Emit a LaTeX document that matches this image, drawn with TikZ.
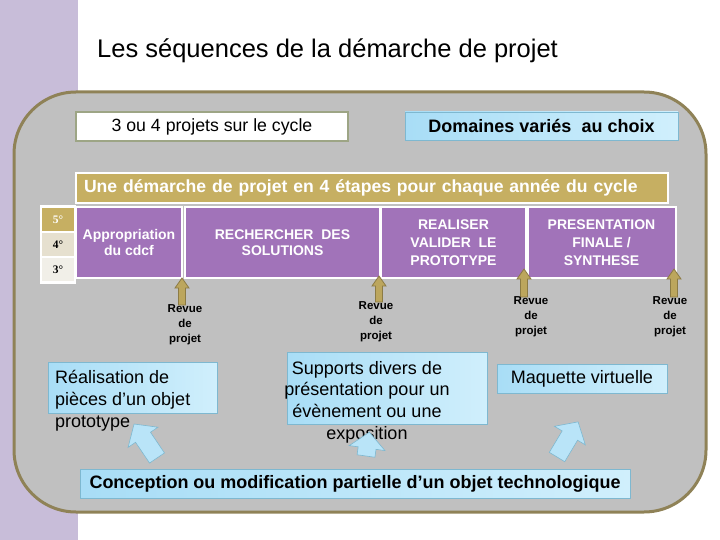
\documentclass[tikz,border=0pt]{standalone}
\usepackage{fontspec}
\setmainfont{Liberation Sans}
\newfontfamily\yearfont{Liberation Serif}
\usetikzlibrary{positioning}

\definecolor{lavender}{HTML}{C8BDD9}
\definecolor{panelgray}{HTML}{C0C0C0}
\definecolor{olive}{HTML}{8F8257}
\definecolor{sage}{HTML}{9DA585}
\definecolor{khaki}{HTML}{C6AF62}
\definecolor{khakidark}{HTML}{8C7B45}
\definecolor{mauve}{HTML}{A173B9}
\definecolor{beige}{HTML}{E6E0CF}
\definecolor{cream}{HTML}{F1EFE8}
\definecolor{skyleft}{HTML}{A8DDF6}
\definecolor{skyright}{HTML}{D0EFFC}
\definecolor{skyline}{HTML}{7EB8D0}

\tikzset{
  revuearrow/.pic={
    \draw[pic actions, fill=khaki!95!black, draw=khakidark, line width=0.8pt]
      (-3.5,0) -- (-3.5,{-#1+10}) -- (-7,{-#1+10}) -- (0,-#1)
      -- (7,{-#1+10}) -- (3.5,{-#1+10}) -- (3.5,0) -- cycle;
  },
  bluearrow/.pic={
    \draw[pic actions, fill=skyleft!80!white, draw=skyline, line width=0.6pt]
      (-9,0) -- (-9,{-#1+16}) -- (-18,{-#1+16}) -- (0,-#1)
      -- (18,{-#1+16}) -- (9,{-#1+16}) -- (9,0) -- cycle;
  }
}

\begin{document}
\begin{tikzpicture}[x=1pt, y=-1pt,
    whitebox/.style={rectangle, draw=sage, line width=2.5pt, fill=white,
                     font=\fontsize{17.7}{21}\selectfont},
    bluebox/.style={rectangle, draw=skyline, line width=0.8pt,
                    left color=skyleft, right color=skyright},
    phase/.style={rectangle, draw=white, line width=2pt, fill=mauve, text=white,
                  minimum height=70, align=center,
                  font=\bfseries\fontsize{14}{15.5}\selectfont},
    yearbox/.style={rectangle, draw=white, line width=2pt, minimum width=34,
                    minimum height=25, font=\yearfont\bfseries\fontsize{11.5}{13}\selectfont},
    revue/.style={align=center, font=\bfseries\fontsize{11.5}{15}\selectfont},
    boxtext/.style={font=\fontsize{18}{21.7}\selectfont, inner sep=0pt}
  ]
    \useasboundingbox (0,0) rectangle (720,540);
    \fill[lavender] (0,0) rectangle (78,540);
    \node[anchor=base west, inner sep=0pt, font=\fontsize{25.5}{28}\selectfont]
      (title) at (97,58) {Les séquences de la démarche de projet};

    % panel
    \draw[fill=panelgray, draw=olive, line width=3pt, rounded corners=62]
      (14,92) rectangle (706,512);

    \node[whitebox, minimum width=272, minimum height=29] (cycle) at (212,126.5)
      {3 ou 4 projets sur le cycle};
    \node[bluebox, minimum width=273, minimum height=28,
          font=\bfseries\fontsize{18}{21}\selectfont] (domaines) at (541.5,126)
      {Domaines variés\ \ au choix};

    \node[rectangle, draw=white, line width=2pt, fill=khaki, text=white,
          minimum height=30, text width=576, inner xsep=8, align=left,
          font=\bfseries\fontsize{17.6}{21}\selectfont] (banner) at (372,188)
      {Une démarche de projet en 4 étapes pour chaque année du cycle};

    % years
    \fill[white] (40,205) rectangle (76,284);
    \node[yearbox, fill=khaki, text=white] (y5) at (58,219.5) {5°};
    \node[yearbox, fill=beige] (y4) at (58,244.5) {4°};
    \node[yearbox, fill=cream] (y3) at (58,269.5) {3°};

    % phases
    \node[phase, minimum width=106] (p1) at (129,242.5) {Appropriation\\du cdcf};
    \node[phase, minimum width=195] (p2) at (282.5,242.5) {RECHERCHER\ \ DES\\SOLUTIONS};
    \node[phase, minimum width=145, font=\bfseries\fontsize{14}{18}\selectfont]
      (p3) at (453.5,242.5) {REALISER\\VALIDER\ \ LE\\PROTOTYPE};
    \node[phase, minimum width=148, font=\bfseries\fontsize{14}{18}\selectfont]
      (p4) at (601.5,242.5) {PRESENTATION\\FINALE /\\SYNTHESE};

    \pic (r1) at (182,305) {revuearrow=27};
    \pic (r2) at (379,302) {revuearrow=26};
    \pic (r3) at (524,297) {revuearrow=28};
    \pic (r4) at (674,297) {revuearrow=28};
    \node[revue] (rv1) at (185,325) {Revue\\de\\projet};
    \node[revue] (rv2) at (376,322) {Revue\\de\\projet};
    \node[revue] (rv3) at (531,317) {Revue\\de\\projet};
    \node[revue] (rv4) at (670,317) {Revue\\de\\projet};

    % realisations
    \node[bluebox, minimum width=169, minimum height=51] (realbox) at (132.5,387.5) {};
    \node[boxtext, anchor=north west, align=left] (realtext) at (55,370.5)
      {Réalisation de\\pièces d’un objet\\prototype};
    \node[bluebox, minimum width=200, minimum height=72] (suppbox) at (387,388) {};
    \node[boxtext, anchor=north, align=center] (supptext) at (367,361)
      {Supports divers de\\présentation pour un\\évènement ou une\\exposition};
    \node[bluebox, minimum width=170, minimum height=29,
          font=\fontsize{18}{21}\selectfont] (maquette) at (582,378.5)
      {Maquette virtuelle};
    \node[bluebox, minimum width=550, minimum height=29,
          font=\bfseries\fontsize{18}{21}\selectfont] (conception) at (355,483.5)
      {Conception ou modification partielle d’un objet technologique};

    \pic[rotate=34] (a1) at (157,458) {bluearrow=41};
    \pic[rotate=-8] (a2) at (366,456) {bluearrow=24};
    \pic[rotate=-31] (a3) at (557,457) {bluearrow=41};
\end{tikzpicture}
\end{document}
